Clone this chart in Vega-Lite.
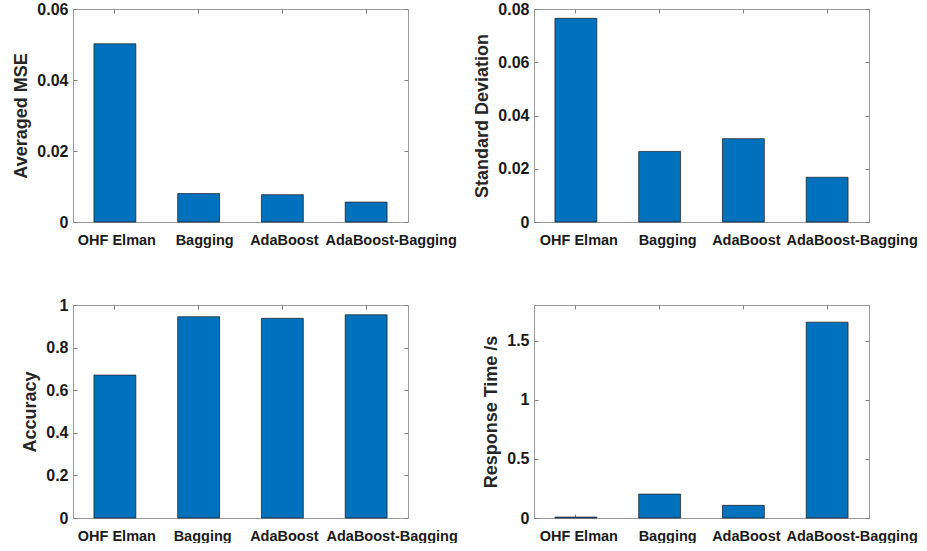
{
  "$schema": "https://vega.github.io/schema/vega-lite/v6.json",
  "background": "white",
  "padding": {"left": 12, "top": 0, "right": 0, "bottom": 0},
  "data": {"values": [
    {"method": "OHF Elman", "mse": 0.0502, "sd": 0.0765, "acc": 0.671, "rt": 0.008},
    {"method": "Bagging", "mse": 0.0080, "sd": 0.0265, "acc": 0.945, "rt": 0.202},
    {"method": "AdaBoost", "mse": 0.0077, "sd": 0.0313, "acc": 0.9375, "rt": 0.107},
    {"method": "AdaBoost-Bagging", "mse": 0.0056, "sd": 0.0168, "acc": 0.954, "rt": 1.655}
  ]},
  "columns": 2,
  "spacing": {"row": 83, "column": 126},
  "bounds": "flush",
  "concat": [
    {
      "width": 335, "height": 213,
      "layer": [
        {"mark": {"type": "bar", "color": "#0072BD", "stroke": "#1a1a1a", "strokeWidth": 0.7},
         "encoding": {
           "x": {"field": "method", "type": "nominal", "sort": ["OHF Elman", "Bagging", "AdaBoost", "AdaBoost-Bagging"], "scale": {"paddingInner": 0.5, "paddingOuter": 0.25}, "axis": {"orient": "bottom", "title": null, "labelAngle": 0, "labelOverlap": false, "labelOffset": {"condition": [{"test": "datum.value === 'AdaBoost-Bagging'", "value": 25}, {"test": "datum.value === 'Bagging'", "value": 6}], "value": 2}}},
           "y": {"field": "mse", "type": "quantitative", "scale": {"domain": [0, 0.06], "nice": false}, "axis": {"orient": "left", "title": "Averaged MSE", "values": [0, 0.02, 0.04, 0.06], "format": "~g"}}
         }},
        {"mark": {"type": "bar", "opacity": 0},
         "encoding": {
           "x": {"field": "method", "type": "nominal", "sort": ["OHF Elman", "Bagging", "AdaBoost", "AdaBoost-Bagging"], "scale": {"paddingInner": 0.5, "paddingOuter": 0.25}, "axis": {"orient": "top", "title": null, "labels": false}},
           "y": {"field": "mse", "type": "quantitative", "scale": {"domain": [0, 0.06], "nice": false}, "axis": {"orient": "right", "title": null, "labels": false, "values": [0, 0.02, 0.04, 0.06]}}
         }}
      ],
      "resolve": {"axis": {"x": "independent", "y": "independent"}}
    },
    {
      "width": 335, "height": 213,
      "layer": [
        {"mark": {"type": "bar", "color": "#0072BD", "stroke": "#1a1a1a", "strokeWidth": 0.7},
         "encoding": {
           "x": {"field": "method", "type": "nominal", "sort": ["OHF Elman", "Bagging", "AdaBoost", "AdaBoost-Bagging"], "scale": {"paddingInner": 0.5, "paddingOuter": 0.25}, "axis": {"orient": "bottom", "title": null, "labelAngle": 0, "labelOverlap": false, "labelOffset": {"condition": [{"test": "datum.value === 'AdaBoost-Bagging'", "value": 25}, {"test": "datum.value === 'Bagging'", "value": 8}], "value": 3}}},
           "y": {"field": "sd", "type": "quantitative", "scale": {"domain": [0, 0.08], "nice": false}, "axis": {"orient": "left", "title": "Standard Deviation", "values": [0, 0.02, 0.04, 0.06, 0.08], "format": "~g"}}
         }},
        {"mark": {"type": "bar", "opacity": 0},
         "encoding": {
           "x": {"field": "method", "type": "nominal", "sort": ["OHF Elman", "Bagging", "AdaBoost", "AdaBoost-Bagging"], "scale": {"paddingInner": 0.5, "paddingOuter": 0.25}, "axis": {"orient": "top", "title": null, "labels": false}},
           "y": {"field": "sd", "type": "quantitative", "scale": {"domain": [0, 0.08], "nice": false}, "axis": {"orient": "right", "title": null, "labels": false, "values": [0, 0.02, 0.04, 0.06, 0.08]}}
         }}
      ],
      "resolve": {"axis": {"x": "independent", "y": "independent"}}
    },
    {
      "width": 335, "height": 213,
      "layer": [
        {"mark": {"type": "bar", "color": "#0072BD", "stroke": "#1a1a1a", "strokeWidth": 0.7},
         "encoding": {
           "x": {"field": "method", "type": "nominal", "sort": ["OHF Elman", "Bagging", "AdaBoost", "AdaBoost-Bagging"], "scale": {"paddingInner": 0.5, "paddingOuter": 0.25}, "axis": {"orient": "bottom", "title": null, "labelAngle": 0, "labelOverlap": false, "labelOffset": {"condition": [{"test": "datum.value === 'AdaBoost-Bagging'", "value": 26}, {"test": "datum.value === 'Bagging'", "value": 4}], "value": 2}}},
           "y": {"field": "acc", "type": "quantitative", "scale": {"domain": [0, 1], "nice": false}, "axis": {"orient": "left", "title": "Accuracy", "values": [0, 0.2, 0.4, 0.6, 0.8, 1], "format": "~g"}}
         }},
        {"mark": {"type": "bar", "opacity": 0},
         "encoding": {
           "x": {"field": "method", "type": "nominal", "sort": ["OHF Elman", "Bagging", "AdaBoost", "AdaBoost-Bagging"], "scale": {"paddingInner": 0.5, "paddingOuter": 0.25}, "axis": {"orient": "top", "title": null, "labels": false}},
           "y": {"field": "acc", "type": "quantitative", "scale": {"domain": [0, 1], "nice": false}, "axis": {"orient": "right", "title": null, "labels": false, "values": [0, 0.2, 0.4, 0.6, 0.8, 1]}}
         }}
      ],
      "resolve": {"axis": {"x": "independent", "y": "independent"}}
    },
    {
      "width": 335, "height": 213,
      "layer": [
        {"mark": {"type": "bar", "color": "#0072BD", "stroke": "#1a1a1a", "strokeWidth": 0.7},
         "encoding": {
           "x": {"field": "method", "type": "nominal", "sort": ["OHF Elman", "Bagging", "AdaBoost", "AdaBoost-Bagging"], "scale": {"paddingInner": 0.5, "paddingOuter": 0.25}, "axis": {"orient": "bottom", "title": null, "labelAngle": 0, "labelOverlap": false, "labelOffset": {"condition": [{"test": "datum.value === 'AdaBoost-Bagging'", "value": 25}, {"test": "datum.value === 'Bagging'", "value": 8}], "value": 3}}},
           "y": {"field": "rt", "type": "quantitative", "scale": {"domain": [0, 1.8], "nice": false}, "axis": {"orient": "left", "title": "Response Time /s", "values": [0, 0.5, 1, 1.5], "format": "~g"}}
         }},
        {"mark": {"type": "bar", "opacity": 0},
         "encoding": {
           "x": {"field": "method", "type": "nominal", "sort": ["OHF Elman", "Bagging", "AdaBoost", "AdaBoost-Bagging"], "scale": {"paddingInner": 0.5, "paddingOuter": 0.25}, "axis": {"orient": "top", "title": null, "labels": false}},
           "y": {"field": "rt", "type": "quantitative", "scale": {"domain": [0, 1.8], "nice": false}, "axis": {"orient": "right", "title": null, "labels": false, "values": [0, 0.5, 1, 1.5]}}
         }}
      ],
      "resolve": {"axis": {"x": "independent", "y": "independent"}}
    }
  ],
  "config": {
    "font": "Liberation Sans",
    "view": {"stroke": "#9a9a9a", "strokeWidth": 1},
    "axis": {
      "grid": false,
      "domainColor": "#9a9a9a",
      "tickColor": "#808080",
      "tickSize": -4,
      "labelFont": "Liberation Sans",
      "labelFontSize": 16,
      "labelFontWeight": "bold",
      "labelColor": "#1a1a1a",
      "labelPadding": 9,
      "titleFont": "Liberation Sans",
      "titleFontSize": 18,
      "titleFontWeight": "bold",
      "titleColor": "#262626",
      "titlePadding": 6
    },
    "axisX": {"labelPadding": 15, "labelFontSize": 14.5}
  }
}
